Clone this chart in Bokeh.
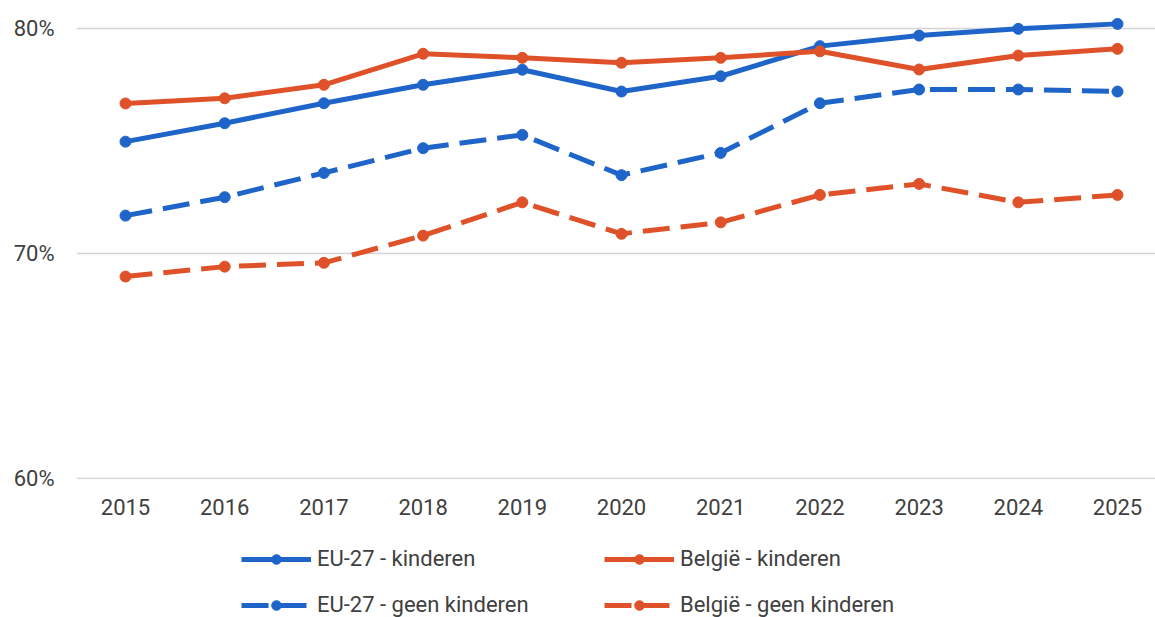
from bokeh.plotting import figure
from bokeh.layouts import column
from bokeh.models import ColumnDataSource, Range1d, FixedTicker, PrintfTickFormatter, Legend, LegendItem
from bokeh.embed import file_html
from bokeh.resources import INLINE

years = [2015, 2016, 2017, 2018, 2019, 2020, 2021, 2022, 2023, 2024, 2025]
eu_kinderen = [74.98, 75.80, 76.69, 77.51, 78.18, 77.21, 77.89, 79.23, 79.70, 80.00, 80.22]
be_kinderen = [76.68, 76.91, 77.51, 78.89, 78.71, 78.49, 78.71, 79.00, 78.19, 78.81, 79.11]
eu_geen = [71.69, 72.51, 73.59, 74.69, 75.28, 73.49, 74.48, 76.69, 77.30, 77.30, 77.21]
be_geen = [68.98, 69.42, 69.59, 70.80, 72.28, 70.88, 71.39, 72.61, 73.10, 72.28, 72.61]
y_ticks = [60, 70, 80]
labels = ["EU-27 - kinderen", "België - kinderen", "EU-27 - geen kinderen", "België - geen kinderen"]

BLUE = "#1F65C9"
ORANGE = "#DF5229"
TEXT = "#404040"
FONT = "Roboto"

src = ColumnDataSource(dict(x=years, eu_k=eu_kinderen, be_k=be_kinderen, eu_g=eu_geen, be_g=be_geen))
series = [("eu_k", BLUE, "solid"), ("be_k", ORANGE, "solid"),
          ("eu_g", BLUE, "27 11"), ("be_g", ORANGE, "27 11")]

# main chart
p = figure(width=1155, height=530, output_backend="svg", toolbar_location=None,
           x_range=Range1d(2014.506, 2025.383), y_range=Range1d(59.95, 81.26),
           min_border_left=76, min_border_right=0, min_border_top=0, min_border_bottom=51)
p.outline_line_color = None
p.background_fill_color = "white"
p.border_fill_color = "white"

for col, color, dash in series:
    p.line("x", col, source=src, line_color=color, line_width=5, line_dash=dash)
    p.scatter("x", col, source=src, size=11, fill_color=color, line_color=color)

p.xgrid.grid_line_color = None
p.ygrid.grid_line_color = "#D4D4D4"
p.ygrid.grid_line_width = 1.5
p.ygrid.ticker = FixedTicker(ticks=y_ticks)

p.xaxis.ticker = FixedTicker(ticks=years)
p.yaxis.ticker = FixedTicker(ticks=y_ticks)
p.yaxis.formatter = PrintfTickFormatter(format="%d%%")
for ax in (p.xaxis[0], p.yaxis[0]):
    ax.axis_line_color = None
    ax.major_tick_line_color = None
    ax.minor_tick_line_color = None
    ax.major_tick_out = 0
    ax.major_tick_in = 0
    ax.major_label_text_font = FONT
    ax.major_label_text_color = TEXT
    ax.major_label_text_font_size = "22px"
p.xaxis.major_label_standoff = 19
p.yaxis.major_label_standoff = 22

# legend strip (same series, drawn out of view so only the legend shows)
q = figure(width=1155, height=87, output_backend="svg", toolbar_location=None,
           x_range=Range1d(0, 1), y_range=Range1d(0, 1),
           min_border_left=0, min_border_right=0, min_border_top=0, min_border_bottom=0)
q.outline_line_color = None
q.axis.visible = False
q.grid.visible = False
items = []
for (col, color, dash), lab in zip(series, labels):
    l = q.line("x", col, source=src, line_color=color, line_width=5, line_dash=dash)
    s = q.scatter("x", col, source=src, size=11, fill_color=color, line_color=color)
    items.append(LegendItem(label=lab, renderers=[l, s]))

legend = Legend(items=items, location=(165, 0), orientation="horizontal", ncols=2,
                label_text_font=FONT, label_text_font_size="22px", label_text_color=TEXT,
                glyph_width=70, glyph_height=24, label_height=24, label_width=266,
                label_standoff=6, spacing=21, padding=0, margin=0,
                border_line_color=None, background_fill_alpha=0)
legend.spacing = 21
q.add_layout(legend, "center")

layout = column(p, q, spacing=0)
open("out.html", "w").write(file_html(layout, INLINE))
